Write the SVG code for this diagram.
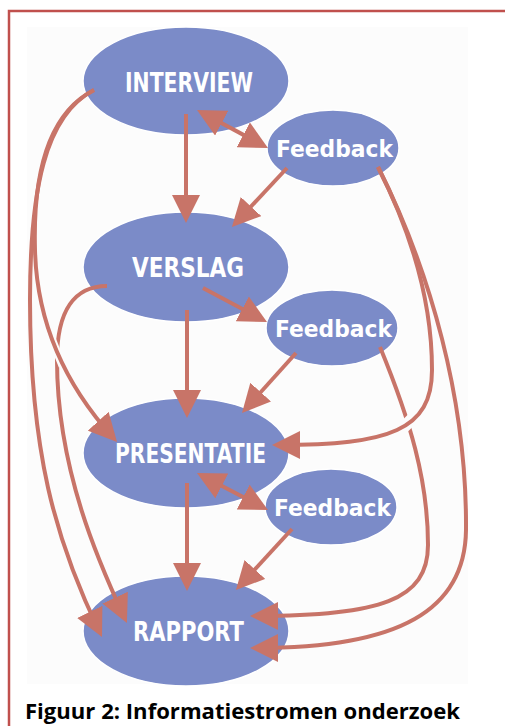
<svg xmlns="http://www.w3.org/2000/svg" width="505" height="726" viewBox="0 0 505 726">
<style>
.node{fill:#7b8bc8;stroke:#ffffff;stroke-width:1.5}
.big{font-family:"DejaVu Sans",sans-serif;font-weight:bold;font-size:27px;fill:#ffffff;text-anchor:middle}
.small{font-family:"DejaVu Sans",sans-serif;font-weight:bold;font-size:23px;fill:#ffffff;text-anchor:middle}
.c{fill:none;stroke:#c87468;stroke-width:4;marker-end:url(#ah)}
.both{marker-start:url(#ah)}
.halo{stroke:#fcfcfc;fill:none}
.cap{font-family:"Open Sans","Liberation Sans",sans-serif;font-weight:bold;font-size:21px;fill:#000000}
</style>
<defs>
<marker id="ah" markerWidth="28" markerHeight="28" refX="22" refY="14" orient="auto-start-reverse" markerUnits="userSpaceOnUse"><path d="M0,0 L28,14 L0,28 Z" fill="#c87468"/></marker>
</defs>
<rect x="0" y="0" width="505" height="726" fill="#ffffff"/>
<rect x="9" y="11" width="520" height="740" fill="none" stroke="#c0504d" stroke-width="2.5"/>
<rect x="27" y="27" width="441" height="657" fill="#fcfcfc"/>
<g id="interview"><ellipse class="node" cx="186" cy="81" rx="103" ry="54"/><text class="big" x="189" y="92" textLength="128" lengthAdjust="spacingAndGlyphs">INTERVIEW</text></g>
<g id="feedback1"><ellipse class="node" cx="333" cy="148" rx="66" ry="38"/><text class="small" x="334.5" y="157" textLength="117" lengthAdjust="spacingAndGlyphs">Feedback</text></g>
<g id="verslag"><ellipse class="node" cx="186" cy="267" rx="103" ry="55"/><text class="big" x="188" y="277" textLength="112" lengthAdjust="spacingAndGlyphs">VERSLAG</text></g>
<g id="feedback2"><ellipse class="node" cx="332" cy="328" rx="66" ry="38"/><text class="small" x="333.5" y="337" textLength="117" lengthAdjust="spacingAndGlyphs">Feedback</text></g>
<g id="presentatie"><ellipse class="node" cx="186" cy="453" rx="103" ry="55"/><text class="big" x="190.5" y="463" textLength="151" lengthAdjust="spacingAndGlyphs">PRESENTATIE</text></g>
<g id="feedback3"><ellipse class="node" cx="331" cy="507" rx="66" ry="38"/><text class="small" x="332.5" y="516" textLength="117" lengthAdjust="spacingAndGlyphs">Feedback</text></g>
<g id="rapport"><ellipse class="node" cx="186" cy="631" rx="103" ry="55"/><text class="big" x="188.5" y="641" textLength="111" lengthAdjust="spacingAndGlyphs">RAPPORT</text></g>
<g id="connectors">
<path class="c" d="M186,114 L186,217"/>
<path class="c both" d="M202.3,112.8 L262.7,145.2"/>
<path class="c" d="M287,168 L236,222.6"/>
<path class="c" d="M203,288 L261.7,319.2"/>
<path class="c" d="M187,310 L187,412"/>
<path class="c" d="M296,353 L246,408.5"/>
<path class="c both" d="M202.3,475.8 L262.7,507.2"/>
<path class="c" d="M187,483 L187,585"/>
<path class="c" d="M292,529 L240,585.6"/>
<path class="c" d="M94,90 C45,115 30,190 30,300 C30,450 55,540 99.4,631.6"/>
<path class="c" d="M107,286 C75,286 57,310 57,360 C57,470 100,565 124.4,617.6"/>
<path class="halo" stroke-width="8" d="M51.4,338.1 L62.6,365.9"/>
<path class="c" d="M94,90 C45,115 33,180 35,250 C37,330 70,390 113,437.5"/>
<path class="c" d="M378,167 C430,270 467,400 466,530 C465,610 400,648 256,648"/>
<path class="c" d="M380,347 C410,420 428,480 428,545 C428,600 380,616 256,616"/>
<path class="halo" stroke-width="12" d="M416.5,414.5 L401.5,429.5"/>
<path class="c" d="M378,167 C410,230 432,300 432,370 C432,430 390,445 278,445"/>
</g>
<text class="cap" x="25" y="719" textLength="435" lengthAdjust="spacingAndGlyphs">Figuur 2: Informatiestromen onderzoek</text>
</svg>
